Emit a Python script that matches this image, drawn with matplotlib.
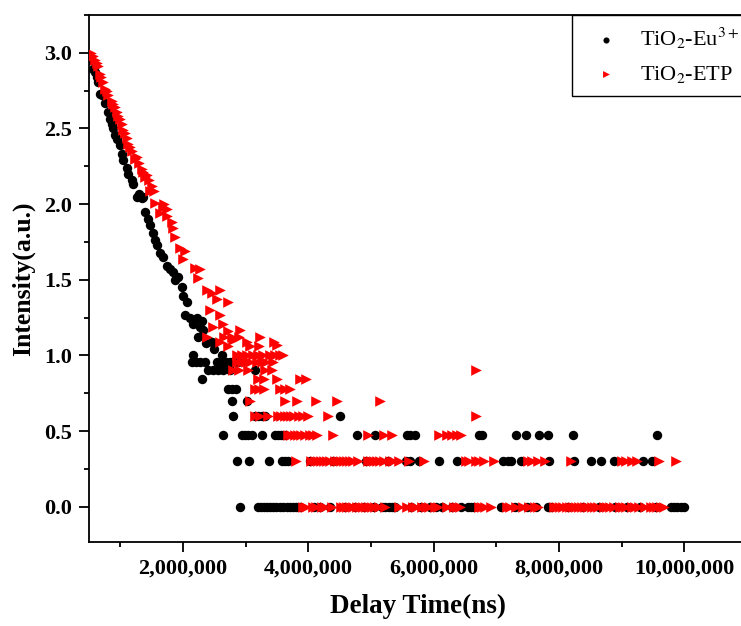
import numpy as np
import matplotlib.pyplot as plt
from matplotlib.ticker import MultipleLocator, StrMethodFormatter

plt.rcParams['font.family'] = ['Liberation Serif', 'DejaVu Serif']
plt.rcParams['mathtext.fontset'] = 'stix'

# --- TiO2-Eu3+ ---------------------------------------------------------
# fast decay part: delay time (1e6 ns) and log intensity
eu_decay_t = [0.53, 0.565, 0.59, 0.62, 0.645, 0.67, 0.71, 0.75, 0.80, 0.83,
              0.86, 0.885, 0.91, 0.95, 0.99, 1.02, 1.045, 1.10, 1.125, 1.18,
              1.205, 1.26, 1.30, 1.34, 1.36, 1.39, 1.44, 1.47, 1.52, 1.55,
              1.58, 1.63, 1.68, 1.74, 1.79, 1.84, 1.88, 1.92, 1.98, 2.00,
              2.06, 2.03, 2.11, 2.16, 2.22, 2.27, 2.32, 2.24, 2.30, 2.36,
              2.46, 2.50]
eu_decay_i = [2.95, 2.89, 2.87, 2.84, 2.81, 2.73, 2.72, 2.67, 2.61, 2.56,
              2.53, 2.50, 2.46, 2.43, 2.39, 2.33, 2.29, 2.24, 2.20, 2.16,
              2.13, 2.05, 2.07, 2.04, 2.05, 1.95, 1.90, 1.86, 1.81, 1.76,
              1.73, 1.68, 1.65, 1.59, 1.57, 1.55, 1.50, 1.52, 1.45, 1.39,
              1.35, 1.27, 1.25, 1.21, 1.25, 1.19, 1.17, 1.12, 1.23, 1.08,
              1.09, 1.04]
# low-count tail: discrete intensity levels and the times they occur at
eu_level_i = [1.000, 0.954, 0.903, 0.845, 0.778, 0.699, 0.602, 0.477, 0.301, 0.0]
eu_level_t = [
    [2.16, 2.62],
    [2.14, 2.20, 2.27, 2.35, 2.54, 2.60, 2.68, 2.75, 2.88],
    [2.40, 2.48, 2.56, 2.64, 2.75, 3.15],
    [2.30],
    [2.72, 2.78, 2.84],
    [2.78, 3.02],
    [2.80, 3.15, 3.20, 3.26, 3.31, 4.51],
    [2.64, 2.94, 2.99, 3.04, 3.10, 3.26, 3.47, 3.52, 3.57, 3.62, 4.78, 5.07,
     5.58, 5.63, 5.71, 6.72, 6.77, 7.31, 7.47, 7.68, 7.82, 8.22, 9.57],
    [2.86, 3.06, 3.37, 3.58, 3.63, 3.68, 4.02, 4.40, 4.92, 5.27, 5.56, 5.62,
     5.77, 6.08, 6.38, 7.10, 7.18, 7.23, 7.39, 7.84, 8.24, 8.51, 8.67, 8.88,
     9.34, 9.49],
    [2.91, 3.19, 3.24, 3.29, 3.34, 3.39, 3.44, 3.49, 3.54, 3.59, 3.66, 3.71,
     3.76, 3.81, 3.86, 4.09, 4.19, 4.34, 4.59, 4.74, 4.89, 5.04, 5.18, 5.23,
     5.28, 5.33, 5.38, 5.64, 5.79, 5.94, 6.04, 6.14, 6.29, 6.44, 6.54, 6.59,
     6.64, 7.07, 7.29, 7.49, 7.64, 7.82, 7.87, 8.14, 8.39, 8.64, 8.89, 9.09,
     9.29, 9.54, 9.79, 9.84, 9.89, 9.94, 9.99],
]

# --- TiO2-ETP ----------------------------------------------------------
etp_decay_t = [0.535, 0.56, 0.59, 0.62, 0.645, 0.67, 0.69, 0.72, 0.75, 0.78,
               0.80, 0.86, 0.88, 0.91, 0.94, 0.965, 1.00, 1.02, 1.045, 1.07,
               1.10, 1.125, 1.15, 1.18, 1.23, 1.26, 1.29, 1.34, 1.36, 1.39,
               1.42, 1.45, 1.47, 1.50, 1.53, 1.55, 1.63, 1.68, 1.69, 1.74,
               1.74, 1.82, 1.845, 1.87, 1.95, 2.03, 2.005, 2.19, 2.27, 2.245,
               2.38, 2.46, 2.59, 2.54, 2.725, 2.43, 2.59, 2.645, 2.485, 2.725,
               2.91, 2.38, 2.59, 2.805, 3.02, 3.23, 3.445, 2.725, 3.07, 3.205,
               3.50, 2.66, 2.78, 2.90]
etp_decay_i = [3.00, 2.98, 2.95, 2.93, 2.91, 2.86, 2.84, 2.81, 2.76, 2.75,
               2.72, 2.68, 2.66, 2.64, 2.61, 2.58, 2.56, 2.53, 2.49, 2.47,
               2.44, 2.40, 2.38, 2.35, 2.30, 2.31, 2.27, 2.23, 2.21, 2.18,
               2.19, 2.16, 2.09, 2.12, 2.09, 2.01, 1.94, 1.98, 2.00, 1.97,
               1.92, 1.88, 1.84, 1.78, 1.71, 1.69, 1.64, 1.58, 1.57, 1.51,
               1.43, 1.41, 1.43, 1.37, 1.35, 1.30, 1.27, 1.21, 1.19, 1.16,
               1.17, 1.12, 1.09, 1.10, 1.09, 1.12, 1.09, 1.06, 1.06, 1.06,
               1.07, 1.12, 1.12, 1.12]
etp_level_i = [1.000, 0.954, 0.903, 0.845, 0.778, 0.699, 0.602, 0.477, 0.301, 0.0]
etp_level_t = [
    [2.86, 2.94, 3.02, 3.12, 3.20, 3.28, 3.39, 3.47, 3.55, 3.60],
    [2.86, 2.94, 3.00, 3.07, 3.18, 3.26, 3.33, 3.44],
    [2.80, 2.90, 3.04, 3.31, 3.42, 6.67],
    [3.20, 3.30, 3.50, 3.87, 3.97],
    [3.15, 3.22, 3.30, 3.55, 3.63, 3.71],
    [3.07, 3.63, 3.82, 4.13, 4.45, 5.15],
    [3.15, 3.23, 3.36, 3.52, 3.57, 3.62, 3.67, 3.72, 3.77, 3.85, 3.92, 4.00,
     4.32, 6.67],
    [3.68, 3.73, 3.78, 3.83, 3.88, 3.94, 4.02, 4.08, 4.14, 4.40, 4.96, 5.20,
     5.34, 6.08, 6.22, 6.30, 6.37, 6.44],
    [3.81, 4.05, 4.10, 4.15, 4.20, 4.25, 4.30, 4.35, 4.42, 4.47, 4.52, 4.57,
     4.62, 4.67, 4.72, 4.80, 4.95, 5.00, 5.05, 5.10, 5.15, 5.20, 5.30, 5.35,
     5.45, 5.60, 5.84, 6.52, 6.57, 6.67, 6.72, 6.80, 6.96, 7.50, 7.57, 7.67,
     7.77, 8.19, 9.00, 9.07, 9.17, 9.24, 9.60, 9.87],
    [3.92, 3.97, 4.07, 4.12, 4.22, 4.27, 4.37, 4.52, 4.57, 4.62, 4.67, 4.72,
     4.77, 4.82, 4.87, 4.92, 4.97, 5.02, 5.07, 5.12, 5.22, 5.44, 5.57, 5.67,
     5.72, 5.82, 5.87, 5.92, 6.02, 6.07, 6.22, 6.32, 6.37, 6.42, 6.72, 6.77,
     6.82, 6.92, 7.17, 7.22, 7.32, 7.42, 7.52, 7.62, 7.67, 7.92, 7.97, 8.02,
     8.07, 8.12, 8.17, 8.22, 8.27, 8.32, 8.37, 8.42, 8.47, 8.52, 8.57, 8.62,
     8.72, 8.77, 8.82, 8.87, 8.97, 9.02, 9.07, 9.17, 9.22, 9.27, 9.37, 9.47,
     9.52, 9.57, 9.62, 9.67],
]


def collect(decay_t, decay_i, level_i, level_t):
    t = list(decay_t)
    y = list(decay_i)
    for lv, ts in zip(level_i, level_t):
        t += ts
        y += [lv] * len(ts)
    return np.array(t) * 1e6, np.array(y)


eu_t, eu_y = collect(eu_decay_t, eu_decay_i, eu_level_i, eu_level_t)
etp_t, etp_y = collect(etp_decay_t, etp_decay_i, etp_level_i, etp_level_t)

W, H = 741, 626
fig = plt.figure(figsize=(W / 100, H / 100), dpi=100)
ax = fig.add_axes([89 / W, 1 - 542 / H, 658 / W, 527 / H])

ax.scatter(eu_t, eu_y, s=46, marker='o', color='black', linewidths=0,
           label=r'TiO$_2$-Eu$^{3+}$', zorder=3)
ax.scatter(etp_t, etp_y, s=58, marker='>', color='#ff0000', linewidths=0,
           label=r'TiO$_2$-ETP', zorder=4)

ax.set_xlim(0.5e6, 11.0e6)
ax.set_ylim(-0.233, 3.25)
ax.xaxis.set_major_locator(MultipleLocator(2e6))
ax.xaxis.set_minor_locator(MultipleLocator(1e6))
ax.xaxis.set_major_formatter(StrMethodFormatter('{x:,.0f}'))
ax.yaxis.set_major_locator(MultipleLocator(0.5))
ax.yaxis.set_minor_locator(MultipleLocator(0.25))
ax.yaxis.set_major_formatter(StrMethodFormatter('{x:.1f}'))

for sp in ax.spines.values():
    sp.set_linewidth(1.3)
ax.tick_params(which='major', direction='out', length=7, width=1.3,
               labelsize=16, pad=5)
ax.tick_params(which='minor', direction='out', length=3.5, width=1.3)
for lab in ax.get_xticklabels() + ax.get_yticklabels():
    lab.set_fontweight('bold')

ax.set_xlabel('Delay Time(ns)', fontsize=19.5, fontweight='bold', labelpad=11)
ax.set_ylabel('Intensity(a.u.)', fontsize=18.5, fontweight='bold', labelpad=7)

leg = ax.legend(loc='upper left', bbox_to_anchor=(572 / W, 1 - 15 / H),
                bbox_transform=fig.transFigure, borderaxespad=0,
                fontsize=16, markerscale=0.65, handletextpad=0.45,
                handlelength=2.1, fancybox=False, framealpha=1,
                edgecolor='black', borderpad=0.5, labelspacing=0.55)
leg.get_frame().set_linewidth(1.0)

fig.savefig('out.png', dpi=100)
